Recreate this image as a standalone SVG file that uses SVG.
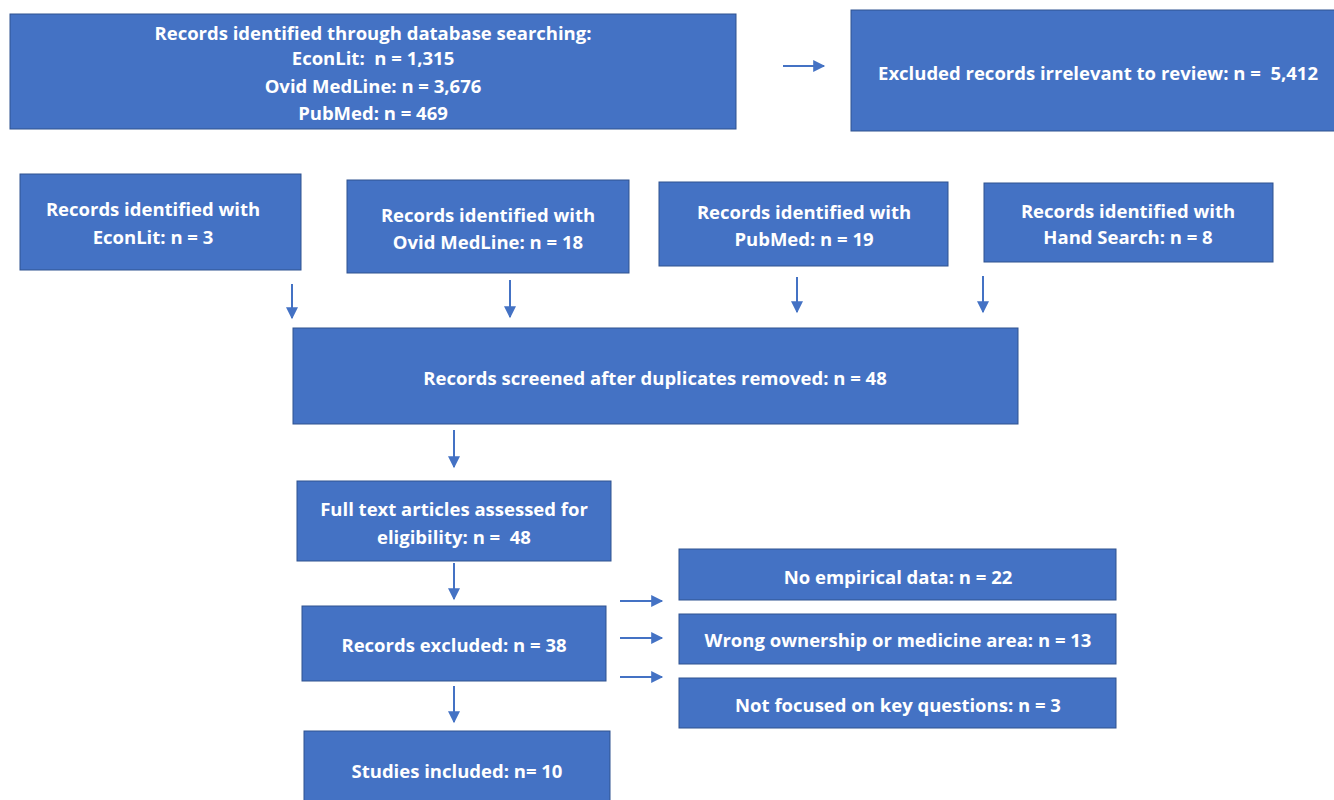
<svg xmlns="http://www.w3.org/2000/svg" width="1334" height="800" viewBox="0 0 1334 800">
<defs>
<style>
.box{fill:#4472C4;stroke:#2F528F;stroke-width:1}
.t{fill:#ffffff;font-family:"Open Sans",Lato,"Liberation Sans",sans-serif;font-weight:bold;font-size:18.5px;text-anchor:middle;white-space:pre}
.c{stroke:#4472C4;stroke-width:2;fill:none;marker-end:url(#ah)}
</style>
<marker id="ah" viewBox="0 0 10 10" refX="9" refY="5" markerWidth="6.5" markerHeight="6" markerUnits="strokeWidth" orient="auto">
<path d="M0,0 L10,5 L0,10 z" fill="#4472C4"/>
</marker>
</defs>
<rect width="1334" height="800" fill="#ffffff"/>
<g id="connectors">
<line class="c" x1="783" y1="66" x2="824" y2="66"/>
<line class="c" x1="292" y1="284" x2="292" y2="318"/>
<line class="c" x1="510" y1="280" x2="510" y2="317"/>
<line class="c" x1="797" y1="277" x2="797" y2="312"/>
<line class="c" x1="983" y1="276" x2="983" y2="312"/>
<line class="c" x1="454" y1="430" x2="454" y2="467"/>
<line class="c" x1="454" y1="563" x2="454" y2="599"/>
<line class="c" x1="454" y1="686" x2="454" y2="722"/>
<line class="c" x1="620" y1="601" x2="662" y2="601"/>
<line class="c" x1="620" y1="638" x2="662" y2="638"/>
<line class="c" x1="620" y1="677" x2="662" y2="677"/>
</g>
<g id="db-search">
<rect class="box" x="10" y="14" width="726" height="115"/>
<text class="t" x="373" y="40" xml:space="preserve">Records identified through database searching:</text>
<text class="t" x="373" y="65" xml:space="preserve">EconLit:  n = 1,315</text>
<text class="t" x="373" y="93" xml:space="preserve">Ovid MedLine: n = 3,676</text>
<text class="t" x="373" y="120" xml:space="preserve">PubMed: n = 469</text>
</g>
<g id="excluded-irrelevant">
<rect class="box" x="851" y="10" width="490" height="121"/>
<text class="t" x="1098" y="80" xml:space="preserve">Excluded records irrelevant to review: n =  5,412</text>
</g>
<g id="econlit">
<rect class="box" x="20" y="174" width="281" height="96"/>
<text class="t" x="153" y="216">Records identified with</text>
<text class="t" x="153" y="244">EconLit: n = 3</text>
</g>
<g id="ovid">
<rect class="box" x="347" y="180" width="282" height="93"/>
<text class="t" x="488" y="222">Records identified with</text>
<text class="t" x="488" y="249">Ovid MedLine: n = 18</text>
</g>
<g id="pubmed">
<rect class="box" x="659" y="182" width="289" height="84"/>
<text class="t" x="804" y="219">Records identified with</text>
<text class="t" x="804" y="246">PubMed: n = 19</text>
</g>
<g id="hand">
<rect class="box" x="984" y="183" width="289" height="79"/>
<text class="t" x="1128" y="218">Records identified with</text>
<text class="t" x="1128" y="244">Hand Search: n = 8</text>
</g>
<g id="screened">
<rect class="box" x="293" y="328" width="725" height="96"/>
<text class="t" x="655" y="385">Records screened after duplicates removed: n = 48</text>
</g>
<g id="fulltext">
<rect class="box" x="297" y="481" width="314" height="80"/>
<text class="t" x="454" y="516">Full text articles assessed for</text>
<text class="t" x="454" y="544" xml:space="preserve">eligibility: n =  48</text>
</g>
<g id="excluded">
<rect class="box" x="302" y="606" width="304" height="75"/>
<text class="t" x="454" y="652">Records excluded: n = 38</text>
</g>
<g id="included">
<rect class="box" x="304" y="731" width="306" height="75"/>
<text class="t" x="457" y="778">Studies included: n= 10</text>
</g>
<g id="no-empirical">
<rect class="box" x="679" y="549" width="437" height="51"/>
<text class="t" x="898" y="584">No empirical data: n = 22</text>
</g>
<g id="wrong-ownership">
<rect class="box" x="679" y="614" width="437" height="50"/>
<text class="t" x="898" y="647">Wrong ownership or medicine area: n = 13</text>
</g>
<g id="not-focused">
<rect class="box" x="679" y="678" width="437" height="50"/>
<text class="t" x="898" y="712">Not focused on key questions: n = 3</text>
</g>
</svg>
